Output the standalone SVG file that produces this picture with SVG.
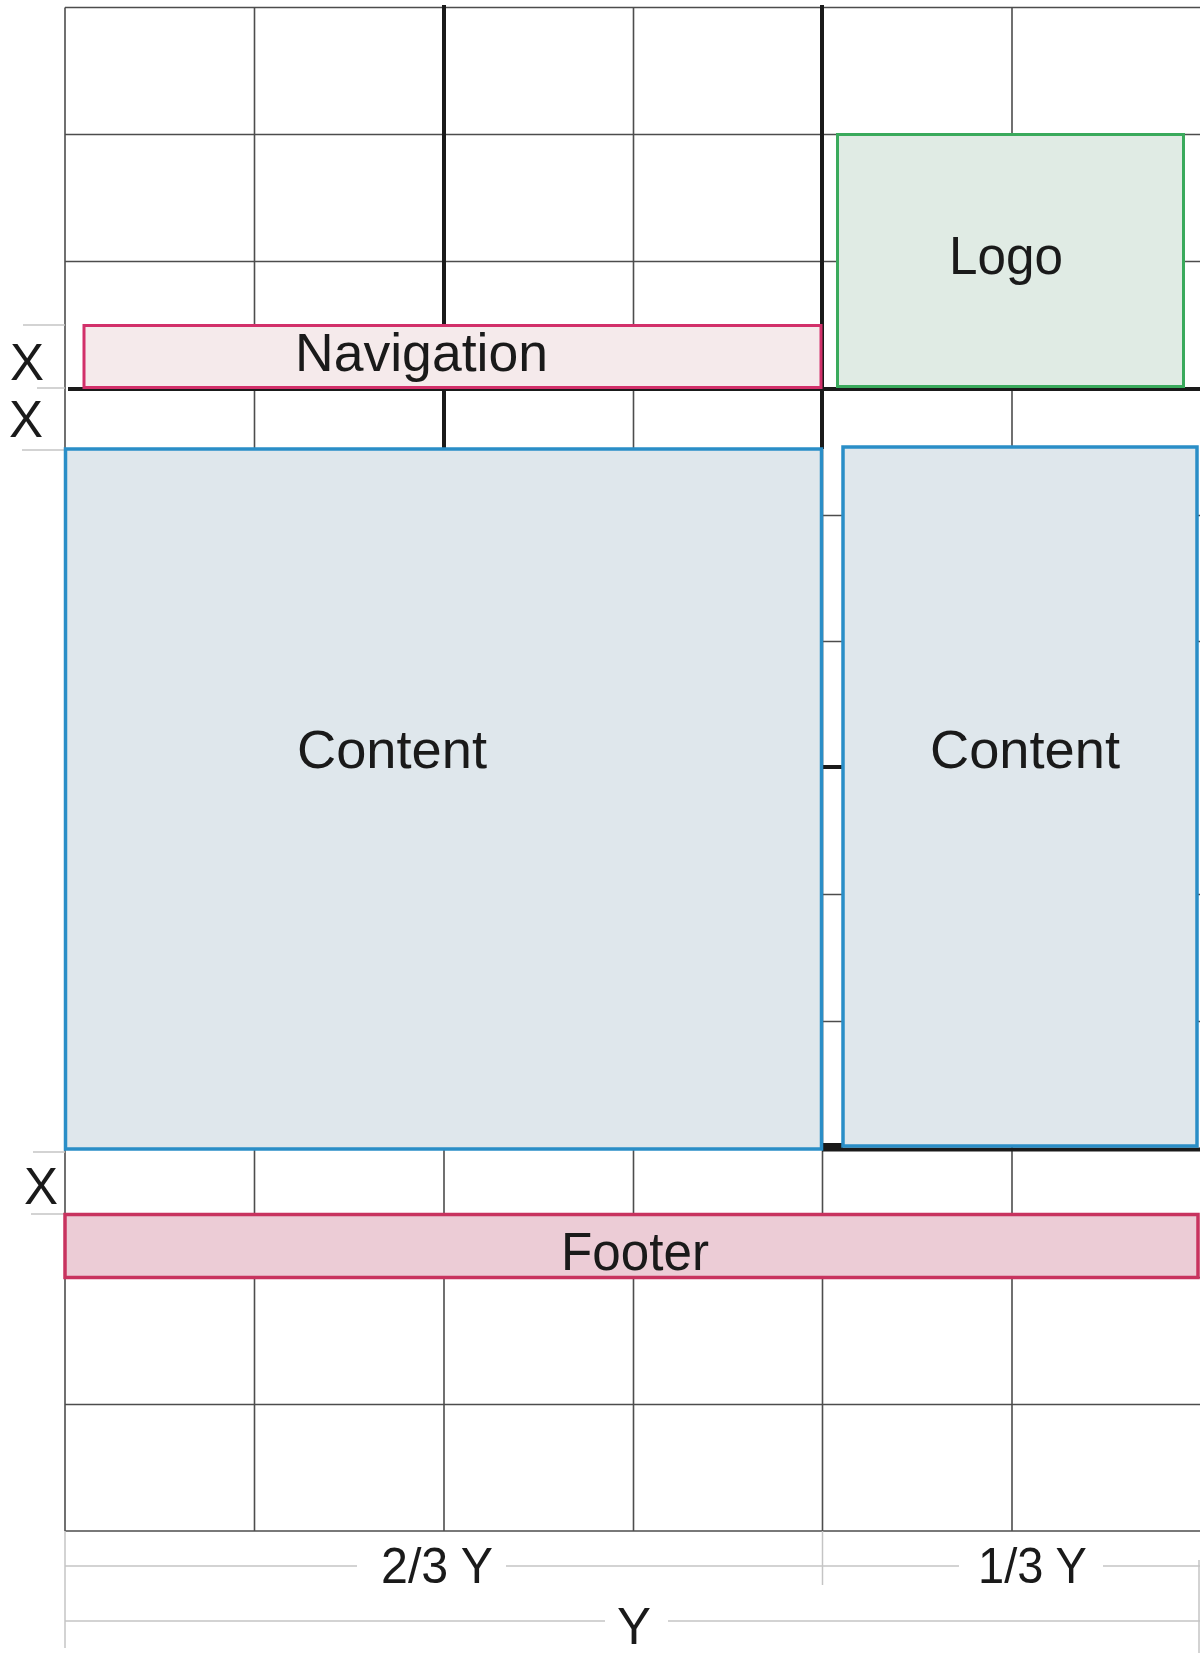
<svg xmlns="http://www.w3.org/2000/svg" width="1200" height="1653" viewBox="0 0 1200 1653">
<style>
.grid line{stroke:#4d4d4d;stroke-width:1.6}
.thick{stroke:#1a1a1a;stroke-width:4}
.light{stroke:#c4c4c4;stroke-width:1.5}
.lbl{font-family:"Liberation Sans",Arial,sans-serif;fill:#1a1a1a}
.box{font-family:"Liberation Sans",Arial,sans-serif;fill:#1a1a1a;font-size:53px;text-anchor:middle}
.content{fill:#dfe7ec;stroke:#2a8ec7;stroke-width:3.5}
</style>
<rect width="1200" height="1653" fill="#ffffff"/>
<g id="grid" class="grid">
<line x1="65" y1="7.5" x2="1200" y2="7.5"/>
<line x1="65" y1="134.5" x2="1200" y2="134.5"/>
<line x1="65" y1="261.5" x2="1200" y2="261.5"/>
<line x1="65" y1="515.5" x2="1200" y2="515.5"/>
<line x1="65" y1="641.5" x2="1200" y2="641.5"/>
<line x1="65" y1="894.5" x2="1200" y2="894.5"/>
<line x1="65" y1="1021.5" x2="1200" y2="1021.5"/>
<line x1="65" y1="1277.5" x2="1200" y2="1277.5"/>
<line x1="65" y1="1404.5" x2="1200" y2="1404.5"/>
<line x1="65" y1="1531" x2="1200" y2="1531"/>
<line x1="65" y1="7.5" x2="65" y2="1531"/>
<line x1="254.5" y1="7.5" x2="254.5" y2="1531"/>
<line x1="444" y1="7.5" x2="444" y2="1531"/>
<line x1="633.5" y1="7.5" x2="633.5" y2="1531"/>
<line x1="822.5" y1="7.5" x2="822.5" y2="1531"/>
<line x1="1012" y1="7.5" x2="1012" y2="1531"/>
</g>
<g id="guides">
<line class="thick" x1="444" y1="5" x2="444" y2="449"/>
<line class="thick" x1="822" y1="5" x2="822" y2="449"/>
<line class="thick" x1="68" y1="389" x2="1200" y2="389"/>
<line class="thick" x1="822" y1="767" x2="843" y2="767"/>
<rect x="822" y="1143" width="21" height="8" fill="#1a1a1a"/>
<line class="thick" x1="822" y1="1149.5" x2="1200" y2="1149.5"/>
</g>
<g id="dimensions">
<line class="light" x1="23" y1="325" x2="65" y2="325"/>
<line class="light" x1="37" y1="388" x2="65" y2="388"/>
<line class="light" x1="22" y1="450" x2="65" y2="450"/>
<line class="light" x1="33" y1="1152" x2="65" y2="1152"/>
<line class="light" x1="31" y1="1214" x2="65" y2="1214"/>
<line class="light" x1="65" y1="1531" x2="65" y2="1648"/>
<line class="light" x1="65" y1="1566" x2="357" y2="1566"/>
<line class="light" x1="506" y1="1566" x2="959" y2="1566"/>
<line class="light" x1="1103" y1="1566" x2="1200" y2="1566"/>
<line class="light" x1="822.5" y1="1531" x2="822.5" y2="1585"/>
<line class="light" x1="65" y1="1621" x2="605" y2="1621"/>
<line class="light" x1="668" y1="1621" x2="1200" y2="1621"/>
<line class="light" x1="1199" y1="1560" x2="1199" y2="1653"/>
<text class="lbl" x="27" y="380" font-size="51" text-anchor="middle">X</text>
<text class="lbl" x="26" y="437" font-size="51" text-anchor="middle">X</text>
<text class="lbl" x="41" y="1204" font-size="51" text-anchor="middle">X</text>
<text class="lbl" x="381" y="1583" font-size="50" textLength="112" lengthAdjust="spacingAndGlyphs">2/3 Y</text>
<text class="lbl" x="978" y="1583" font-size="50" textLength="109" lengthAdjust="spacingAndGlyphs">1/3 Y</text>
<text class="lbl" x="634" y="1644" font-size="51" text-anchor="middle">Y</text>
</g>
<g id="navigation">
<rect x="84" y="325.5" width="737" height="62" fill="#f5eaeb" stroke="#d2306a" stroke-width="3"/>
<text class="box" x="421.5" y="371" textLength="253" lengthAdjust="spacingAndGlyphs">Navigation</text>
</g>
<g id="logo">
<rect x="837.5" y="134.5" width="346" height="252" fill="#e0ebe4" stroke="#3aaa5c" stroke-width="3"/>
<text class="box" x="1006" y="274" textLength="114" lengthAdjust="spacingAndGlyphs">Logo</text>
</g>
<g id="content-main">
<rect class="content" x="65.5" y="449" width="756" height="700"/>
<text class="box" x="392" y="768" textLength="190" lengthAdjust="spacingAndGlyphs">Content</text>
</g>
<g id="content-side">
<rect class="content" x="843" y="447" width="354" height="699"/>
<text class="box" x="1025" y="768" textLength="190" lengthAdjust="spacingAndGlyphs">Content</text>
</g>
<g id="footer">
<rect x="65" y="1214.5" width="1133" height="63" fill="#ecccd6" stroke="#c8335f" stroke-width="3.5"/>
<text class="box" x="635" y="1270" textLength="148" lengthAdjust="spacingAndGlyphs">Footer</text>
</g>
</svg>
